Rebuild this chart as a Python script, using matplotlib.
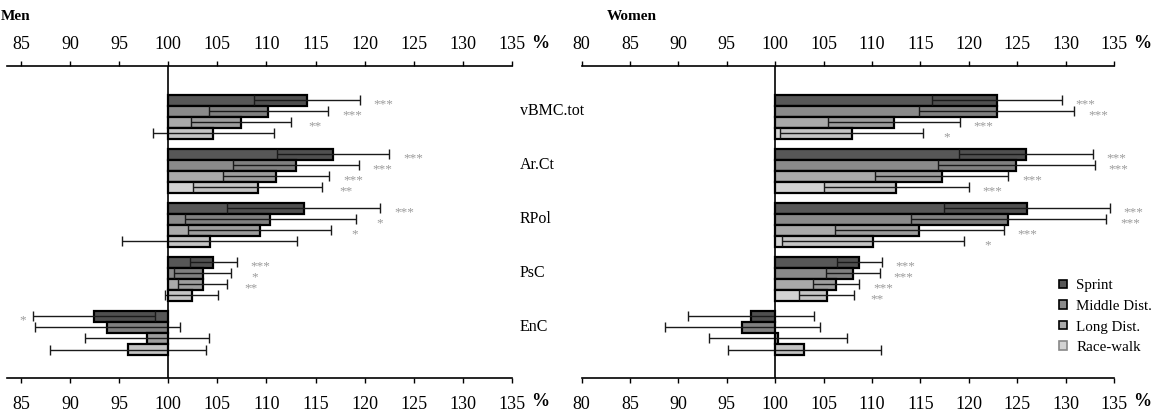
import matplotlib
matplotlib.use('Agg')
import matplotlib.pyplot as plt
import numpy as np
from matplotlib.patches import Patch

plt.rcParams['font.family'] = ['Liberation Serif', 'DejaVu Serif']

# ---------------- data ----------------
categories = ['vBMC.tot', 'Ar.Ct', 'RPol', 'PsC', 'EnC']
groups = ['Sprint', 'Middle Dist.', 'Long Dist.', 'Race-walk']
tick_values = [80, 85, 90, 95, 100, 105, 110, 115, 120, 125, 130, 135]

# Men: means (% of controls) and SD
men_sprint = [114.1, 116.8, 113.8, 104.6, 92.4]
men_middle = [110.2, 113.0, 110.4, 103.5, 93.8]
men_long = [107.4, 111.0, 109.3, 103.5, 97.8]
men_race = [104.6, 109.1, 104.2, 102.4, 95.9]
men_sprint_sd = [5.4, 5.7, 7.8, 2.4, 6.2]
men_middle_sd = [6.1, 6.4, 8.7, 2.9, 7.4]
men_long_sd = [5.1, 5.4, 7.3, 2.5, 6.3]
men_race_sd = [6.2, 6.6, 8.9, 2.7, 7.9]
men_sprint_sig = ['***', '***', '***', '***', '*']
men_middle_sig = ['***', '***', '*', '*', '']
men_long_sig = ['**', '***', '*', '**', '']
men_race_sig = ['', '**', '', '', '']

# Women
women_sprint = [122.9, 125.9, 126.0, 108.7, 97.5]
women_middle = [122.9, 124.9, 124.1, 108.0, 96.6]
women_long = [112.3, 117.2, 114.9, 106.3, 100.3]
women_race = [107.9, 112.5, 110.1, 105.3, 103.0]
women_sprint_sd = [6.7, 6.9, 8.6, 2.3, 6.5]
women_middle_sd = [8.0, 8.1, 10.1, 2.8, 8.0]
women_long_sd = [6.8, 6.9, 8.7, 2.4, 7.1]
women_race_sd = [7.4, 7.5, 9.4, 2.8, 7.9]
women_sprint_sig = ['***', '***', '***', '***', '']
women_middle_sig = ['***', '***', '***', '***', '']
women_long_sig = ['***', '***', '***', '***', '']
women_race_sig = ['*', '***', '*', '**', '']

colors = ['#575757', '#8a8a8a', '#a9a9a9', '#d3d3d3']

# ---------------- figure ----------------
W, H = 1156, 413
fig = plt.figure(figsize=(W / 100, H / 100), dpi=100)


def px_axes(x0, x1, ytop, ybot):
    return fig.add_axes([x0 / W, 1 - ybot / H, (x1 - x0) / W, (ybot - ytop) / H])


ax_m = px_axes(7.2, 512, 65.7, 378.3)
ax_w = px_axes(581.6, 1114, 65.7, 378.3)

bar_h = 0.205
ypos = np.arange(len(categories))


def draw_panel(ax, xlim, means, sds, sigs):
    for i, (m, s, sg, c) in enumerate(zip(means, sds, sigs, colors)):
        m = np.asarray(m)
        s = np.asarray(s)
        y = ypos + (i - 1.5) * bar_h
        ax.barh(y, m - 100, left=100, height=bar_h, color=c,
                edgecolor='black', linewidth=1.6, zorder=2)
        # slightly darker zone inside the bar covered by the SD range
        inner = np.where(m >= 100, np.maximum(m - s, 100),
                         np.minimum(m + s, 100))
        ax.barh(y, m - inner, left=inner, height=bar_h * 0.8,
                color='black', alpha=0.07, linewidth=0, zorder=2.5)
        ax.errorbar(m, y, xerr=s, fmt='none', ecolor='#1a1a1a',
                    elinewidth=1.0, capsize=3.4, capthick=1.0, zorder=3)
        for yy, mm, ss, txt in zip(y, m, s, sg):
            if not txt:
                continue
            if mm >= 100:
                ax.annotate(txt, xy=(mm + ss, yy), xytext=(17, -3),
                            textcoords='offset points', ha='center',
                            va='center', fontsize=9.5, color='#9a9a9a',
                            annotation_clip=False)
            else:
                ax.annotate(txt, xy=(mm - ss, yy), xytext=(-7, -3),
                            textcoords='offset points', ha='center',
                            va='center', fontsize=9.5, color='#9a9a9a',
                            annotation_clip=False)
    ax.axvline(100, color='black', lw=1.2, zorder=4)
    ax.set_xlim(*xlim)
    ax.set_ylim(4.84, -0.943)
    ticks = [t for t in tick_values if xlim[0] <= t <= xlim[1]]
    ax.set_xticks(ticks)
    ax.set_yticks([])
    for side in ['left', 'right', 'top']:
        ax.spines[side].set_visible(False)
    ax.spines['bottom'].set_linewidth(1.2)
    ax.tick_params(axis='x', top=False, labeltop=False, bottom=True,
                   labelbottom=True, direction='out', length=3.5,
                   width=1.0, pad=9.2, labelsize=13)
    sec = ax.secondary_xaxis('top')
    sec.set_xticks(ticks)
    sec.spines['top'].set_linewidth(1.2)
    sec.tick_params(axis='x', direction='out', length=3.5, width=1.0,
                    pad=5.8, labelsize=13)
    ax.patch.set_visible(False)
    ax.annotate('%', xy=(1, 1), xycoords='axes fraction', xytext=(20, 16.3),
                textcoords='offset points', ha='center', va='center',
                fontsize=13, fontweight='bold')
    ax.annotate('%', xy=(1, 0), xycoords='axes fraction', xytext=(20, -17),
                textcoords='offset points', ha='center', va='center',
                fontsize=13, fontweight='bold')


draw_panel(ax_m, (83.6, 135),
           [men_sprint, men_middle, men_long, men_race],
           [men_sprint_sd, men_middle_sd, men_long_sd, men_race_sd],
           [men_sprint_sig, men_middle_sig, men_long_sig, men_race_sig])
draw_panel(ax_w, (80, 135),
           [women_sprint, women_middle, women_long, women_race],
           [women_sprint_sd, women_middle_sd, women_long_sd, women_race_sd],
           [women_sprint_sig, women_middle_sig, women_long_sig, women_race_sig])

# category labels between the panels
for yc, name in zip(ypos, categories):
    ax_m.text(135.8, yc - 0.1, name, ha='left', va='center', fontsize=11.5,
              clip_on=False)

fig.text(0.5 / W, 1 - 16.7 / H, 'Men', fontweight='bold', fontsize=11,
         ha='left', va='center')
fig.text(606.4 / W, 1 - 16.7 / H, 'Women', fontweight='bold', fontsize=11,
         ha='left', va='center')

handles = [Patch(facecolor=c, edgecolor='black' if i < 3 else '#888888',
                 linewidth=1.2) for i, c in enumerate(colors)]
fig.legend(handles, groups, loc='upper left',
           bbox_to_anchor=(1059 / W, 1 - 279.5 / H), frameon=False,
           fontsize=10.8, handlelength=0.5, handleheight=0.5,
           handletextpad=0.65, labelspacing=0.5, borderpad=0,
           borderaxespad=0)

fig.savefig('out.png', dpi=100)
